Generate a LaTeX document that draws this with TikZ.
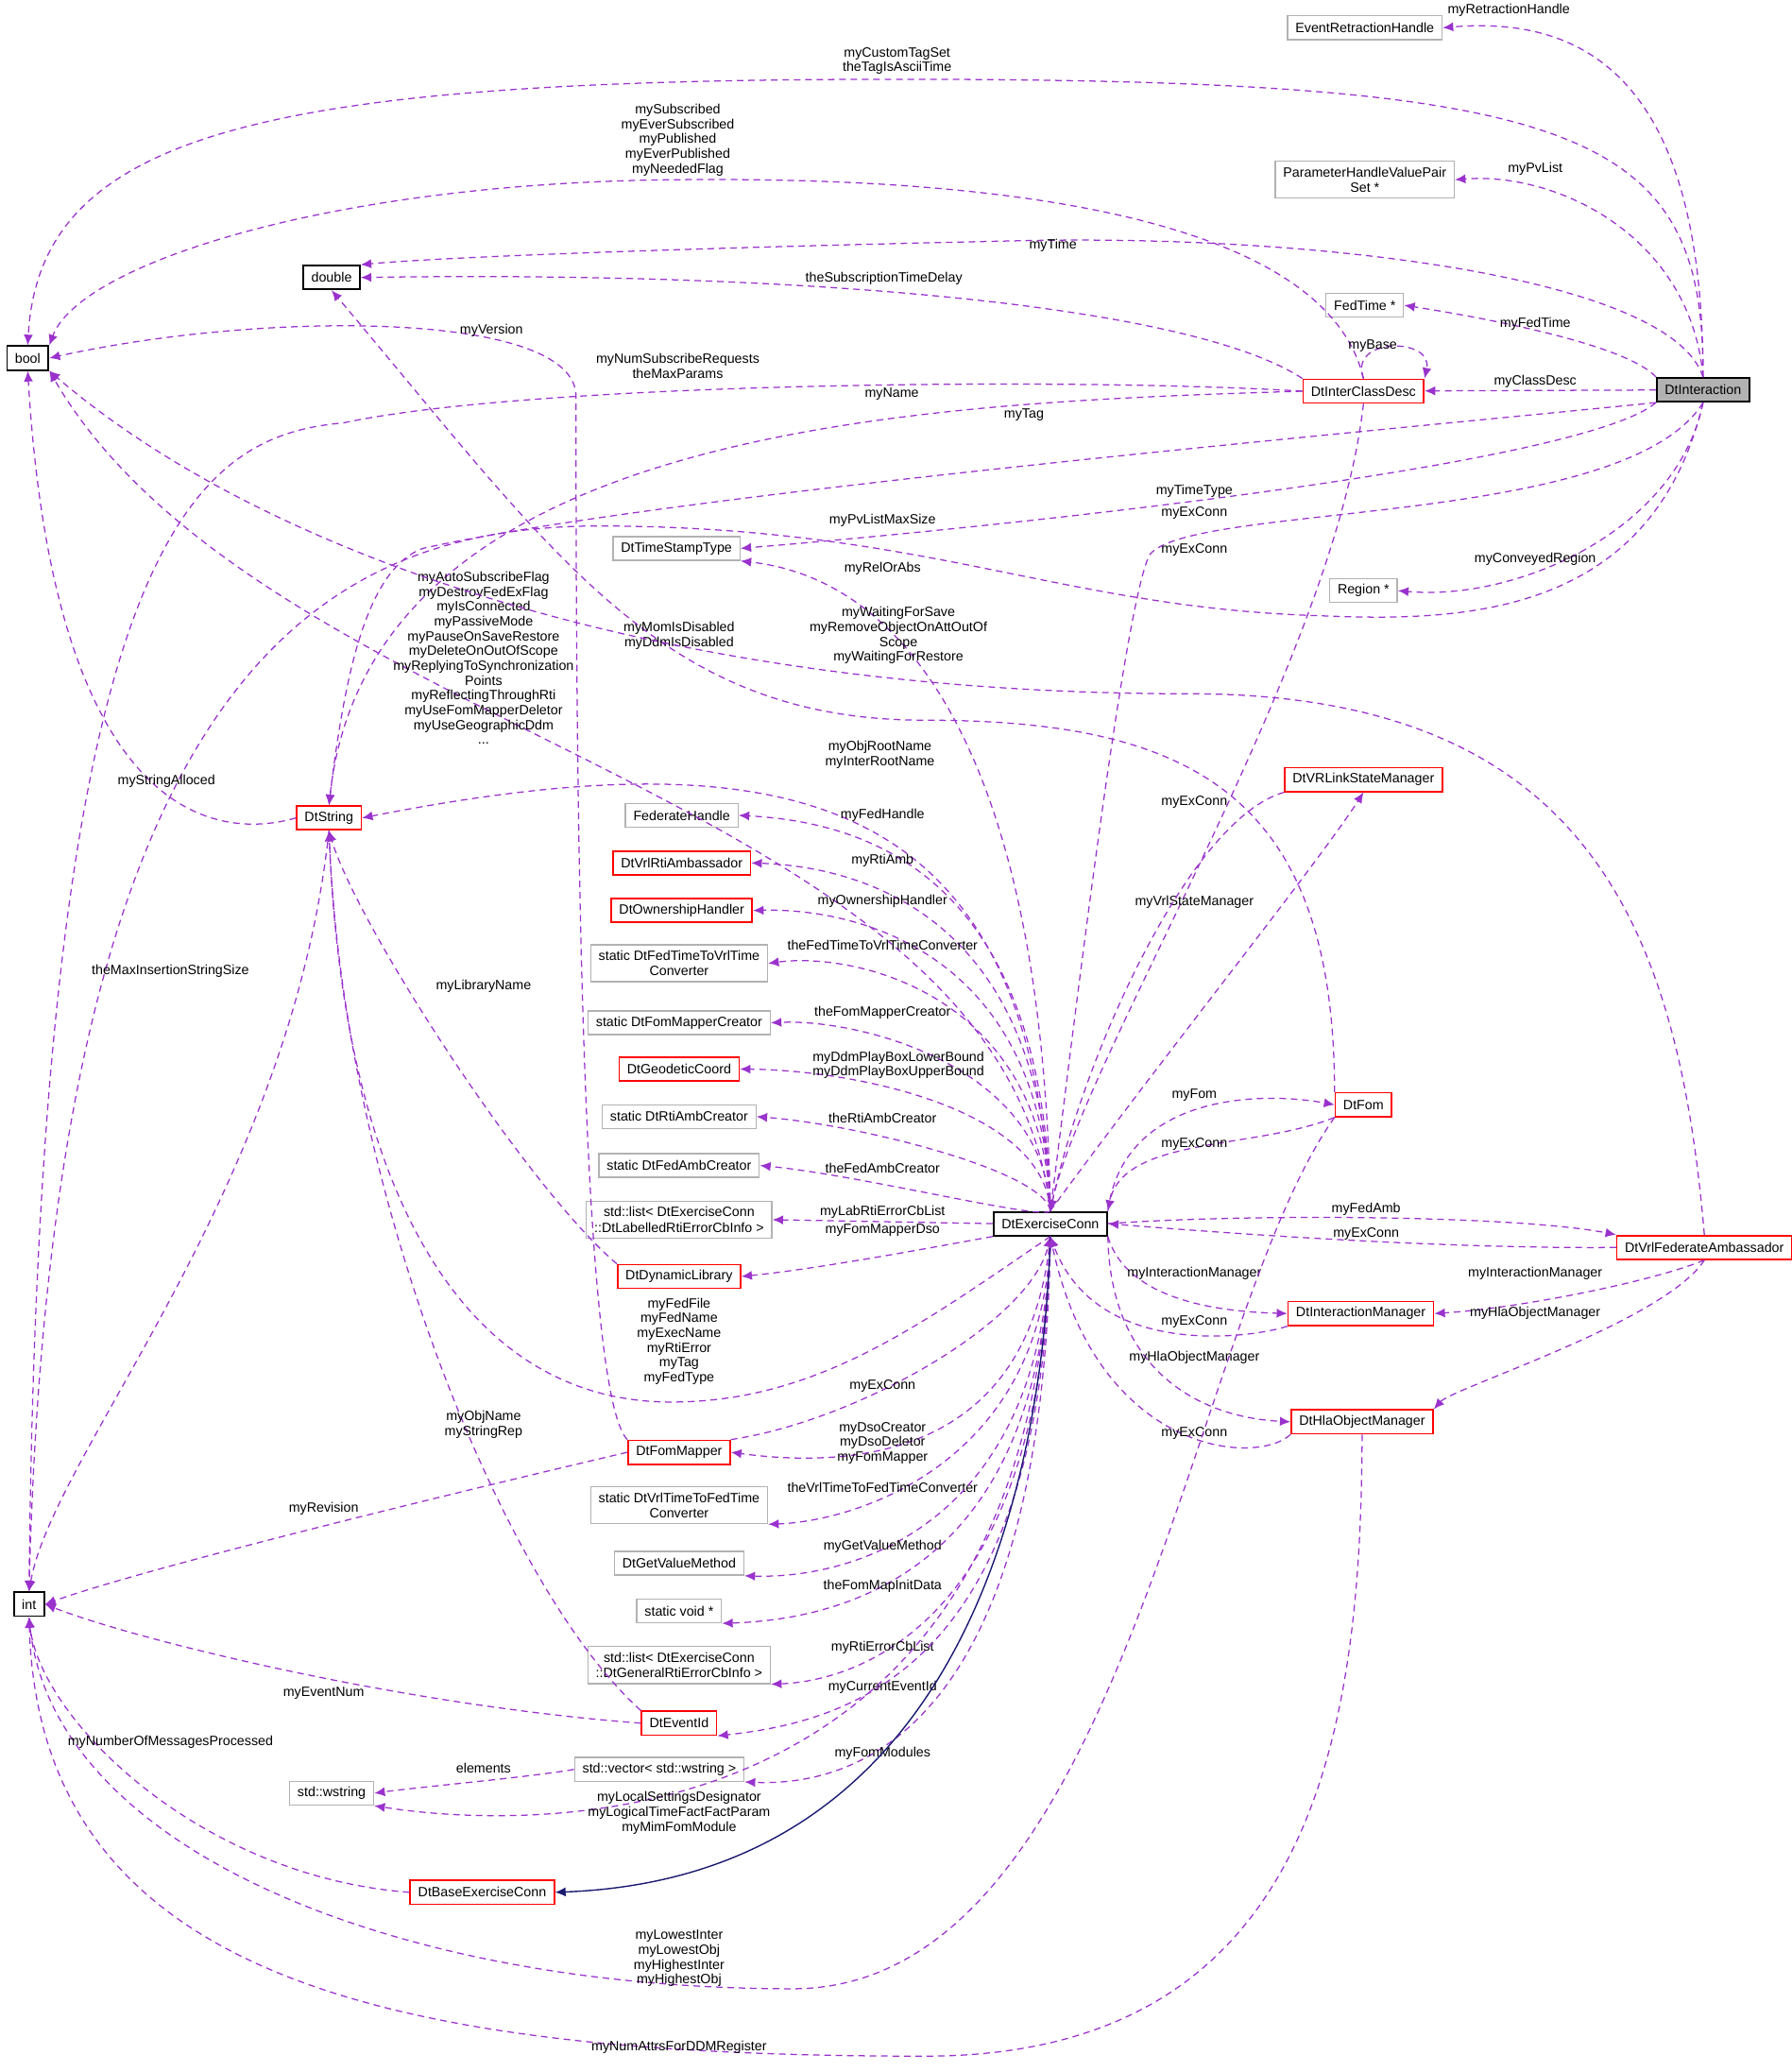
\documentclass[tikz,border=0pt]{standalone}
\usepackage{fontspec}
\setmainfont{Liberation Sans}
\usetikzlibrary{arrows.meta}
\definecolor{ep}{HTML}{9A32CD}
\definecolor{nv}{HTML}{191970}
\begin{document}
\begin{tikzpicture}[x=0.5pt,y=-0.5pt,
 box/.style={draw, font=\fontsize{5.1}{5.8}\selectfont, inner xsep=3pt, inner ysep=0pt, minimum height=9pt, align=center, line width=0.5pt},
 gb/.style={box, draw=black!30},
 rb/.style={box, draw=red, line width=0.6pt},
 kb/.style={box, draw=black, line width=0.7pt},
 tb/.style={box, minimum height=14pt},
 lb/.style={font=\fontsize{5.1}{5.6}\selectfont, align=center, inner sep=0pt},
 e/.style={draw=ep, dash pattern=on 2.5pt off 1.8pt, line width=0.45pt, -{Latex[length=4pt,width=3.5pt]}, fill=none},
 inh/.style={draw=nv, line width=0.5pt, -{Latex[length=4pt,width=3.5pt]}}]
\useasboundingbox (0,0) rectangle (1356,1568);
% nodes
\node[gb] (erh) at (1033,21) {EventRetractionHandle};
\node[gb,tb] (phvp) at (1033,136) {ParameterHandleValuePair\\Set *};
\node[kb] (dbl) at (251,210) {double};
\node[gb] (ft) at (1033,231) {FedTime *};
\node[kb] (bool) at (21,271) {bool};
\node[rb] (icd) at (1032,296) {DtInterClassDesc};
\node[kb,fill=black!30] (I) at (1289,295) {DtInteraction};
\node[gb] (dts) at (512,415) {DtTimeStampType};
\node[gb] (reg) at (1032,447) {Region *};
\node[rb] (str) at (249,619) {DtString};
\node[gb] (fh) at (516,617) {FederateHandle};
\node[rb] (vrl) at (1032,590) {DtVRLinkStateManager};
\node[rb] (rti) at (516,653) {DtVrlRtiAmbassador};
\node[rb] (own) at (516,689) {DtOwnershipHandler};
\node[gb,tb] (f2v) at (514,729) {static DtFedTimeToVrlTime\\Converter};
\node[gb] (fmc) at (514,774) {static DtFomMapperCreator};
\node[rb] (geo) at (514,809) {DtGeodeticCoord};
\node[gb] (rac) at (514,845) {static DtRtiAmbCreator};
\node[gb] (fac) at (514,882) {static DtFedAmbCreator};
\node[gb,tb] (ll) at (514,923) {std::list\textless{} DtExerciseConn\\::DtLabelledRtiErrorCbInfo \textgreater};
\node[rb] (ddl) at (514,966) {DtDynamicLibrary};
\node[kb] (E) at (795,926) {DtExerciseConn};
\node[rb] (fom) at (1032,836) {DtFom};
\node[rb] (vfa) at (1290,944) {DtVrlFederateAmbassador};
\node[rb] (im) at (1030,994) {DtInteractionManager};
\node[rb] (hom) at (1031,1076) {DtHlaObjectManager};
\node[rb] (fm) at (514,1099) {DtFomMapper};
\node[gb,tb] (v2f) at (514,1139) {static DtVrlTimeToFedTime\\Converter};
\node[gb] (gvm) at (514,1183) {DtGetValueMethod};
\node[gb] (sv) at (514,1219) {static void *};
\node[gb,tb] (gl) at (514,1260) {std::list\textless{} DtExerciseConn\\::DtGeneralRtiErrorCbInfo \textgreater};
\node[rb] (eid) at (514,1304) {DtEventId};
\node[kb] (int) at (22,1214) {int};
\node[gb] (vec) at (499,1339) {std::vector\textless{} std::wstring \textgreater};
\node[gb] (ws) at (251,1357) {std::wstring};
\node[rb] (bec) at (365,1432) {DtBaseExerciseConn};
% DtInteraction edges
\draw[e] (I.north) .. controls (1289,60) and (1200,12) .. (erh.east);
\node[lb] at (1142,8) {myRetractionHandle};
\draw[e] (I.north) .. controls (1280,180) and (1180,130) .. (phvp.east);
\node[lb] at (1162,128) {myPvList};
\draw[e] (I.north) .. controls (1265,210) and (1000,178) .. (780,182) .. controls (500,188) and (330,195) .. (dbl.north east);
\node[lb] at (797,186) {myTime};
\draw[e] (I.north west) .. controls (1230,260) and (1120,240) .. (ft.east);
\node[lb] at (1162,245) {myFedTime};
\draw[e] (I) -- (icd);
\node[lb] at (1162,289) {myClassDesc};
\draw[e] (I.north) .. controls (1290,100) and (1200,60) .. (680,60) .. controls (200,60) and (30,100) .. (bool.north);
\node[lb] at (679,46) {myCustomTagSet\\theTagIsAsciiTime};
\draw[e] (I.south west) .. controls (1000,330) and (500,375) .. (320,415) .. controls (280,430) and (262,500) .. (str.north);
\node[lb] at (775,314) {myTag};
\draw[e] (I.south west) .. controls (1200,350) and (800,395) .. (dts.east);
\node[lb] at (904,372) {myTimeType};
\draw[e] (I.south) .. controls (1270,400) and (1150,455) .. (reg.east);
\node[lb] at (1162,423) {myConveyedRegion};
\draw[e] (I.south) .. controls (1230,400) and (900,380) .. (870,420) .. controls (850,460) and (810,800) .. (E.north);
\node[lb] at (904,388) {myExConn};
\draw[e] (I.south) .. controls (1250,470) and (1100,470) .. (1000,466) .. controls (800,460) and (700,398) .. (450,398) .. controls (250,400) and (40,500) .. (int.north);
\node[lb] at (668,394) {myPvListMaxSize};
% InterClassDesc edges
\draw[e] (icd.north) .. controls (1000,150) and (700,134) .. (513,136) .. controls (250,138) and (60,200) .. (bool.north east);
\node[lb] at (513,106) {mySubscribed\\myEverSubscribed\\myPublished\\myEverPublished\\myNeededFlag};
\draw[e] (icd.north west) .. controls (900,230) and (600,205) .. (dbl.east);
\node[lb] at (669,211) {theSubscriptionTimeDelay};
\draw[e] (icd.north) .. controls (1020,255) and (1085,255) .. (icd.north east);
\node[lb] at (1039,262) {myBase};
\draw[e] (icd.west) .. controls (800,285) and (400,290) .. (260,320) .. controls (150,330) and (30,400) .. (int.north);
\node[lb] at (513,277) {myNumSubscribeRequests\\theMaxParams};
\draw[e] (icd.west) .. controls (700,305) and (280,320) .. (str.north);
\node[lb] at (675,298) {myName};
\draw[e] (icd.south) .. controls (1010,500) and (820,800) .. (E.north);
\node[lb] at (904,416) {myExConn};
% DtString edges
\draw[e] (str.west) .. controls (150,640) and (40,600) .. (bool.south);
\node[lb] at (126,591) {myStringAlloced};
\draw[e] (str.south) .. controls (220,900) and (40,1100) .. (int.north);
\node[lb] at (129,735) {theMaxInsertionStringSize};
% DtExerciseConn to left column
\draw[e] (E.north) .. controls (760,600) and (200,560) .. (bool.south east);
\node[lb] at (366,498) {myAutoSubscribeFlag\\myDestroyFedExFlag\\myIsConnected\\myPassiveMode\\myPauseOnSaveRestore\\myDeleteOnOutOfScope\\myReplyingToSynchronization\\Points\\myReflectingThroughRti\\myUseFomMapperDeletor\\myUseGeographicDdm\\...};
\draw[e] (E.north) .. controls (780,600) and (600,555) .. (str.east);
\node[lb] at (666,571) {myObjRootName\\myInterRootName};
\draw[e] (E.north) .. controls (790,600) and (700,440) .. (dts.south east);
\node[lb] at (668,430) {myRelOrAbs};
\foreach \n/\y/\l in {fh/617/myFedHandle, rti/651/myRtiAmb, own/682/myOwnershipHandler, f2v/715/theFedTimeToVrlTimeConverter, fmc/766/theFomMapperCreator, rac/846/theRtiAmbCreator, fac/884/theFedAmbCreator}{
 \draw[e] (E.north) .. controls (790,\y+40) and (650,\y+5) .. (\n.east);
 \node[lb] at (668,\y) {\l};}
\draw[e] (E.north) .. controls (790,840) and (650,810) .. (geo.east);
\node[lb] at (680,806) {myDdmPlayBoxLowerBound\\myDdmPlayBoxUpperBound};
\draw[e] (E.west) -- (ll.east);
\node[lb] at (668,917) {myLabRtiErrorCbList};
\draw[e] (E.south west) .. controls (700,945) and (620,960) .. (ddl.east);
\node[lb] at (668,931) {myFomMapperDso};
\draw[e] (E.south) .. controls (700,1000) and (620,1061) .. (508,1061) .. controls (350,1061) and (260,900) .. (str.south);
\node[lb] at (514,1015) {myFedFile\\myFedName\\myExecName\\myRtiError\\myTag\\myFedType};
\draw[e] (fm.north east) .. controls (650,1075) and (780,1000) .. (E.south);
\node[lb] at (668,1049) {myExConn};
\draw[e] (E.south) .. controls (780,1100) and (650,1112) .. (fm.east);
\node[lb] at (668,1092) {myDsoCreator\\myDsoDeletor\\myFomMapper};
\foreach \n/\y/\l in {v2f/1126/theVrlTimeToFedTimeConverter, gvm/1170/myGetValueMethod, sv/1200/theFomMapInitData, gl/1247/myRtiErrorCbList, eid/1277/myCurrentEventId, vec/1327/myFomModules}{
 \draw[e] (E.south) .. controls (790,\y-20) and (650,\y+25) .. (\n.south east);
 \node[lb] at (668,\y) {\l};}
\draw[e] (E.south) .. controls (780,1400) and (400,1385) .. (ws.south east);
\node[lb] at (514,1372) {myLocalSettingsDesignator\\myLogicalTimeFactFactParam\\myMimFomModule};
\draw[inh] (E.south) .. controls (790,1100) and (740,1420) .. (bec.east);
% right side
\draw[e] (E.north) .. controls (880,800) and (1000,650) .. (vrl.south);
\node[lb] at (904,683) {myVrlStateManager};
\draw[e] (vrl.south west) .. controls (900,620) and (820,800) .. (E.north);
\node[lb] at (904,607) {myExConn};
\draw[e] (E.north east) .. controls (850,830) and (950,825) .. (fom.west);
\node[lb] at (904,829) {myFom};
\draw[e] (fom.south west) .. controls (950,870) and (850,860) .. (E.north east);
\node[lb] at (904,866) {myExConn};
\draw[e] (E.east) .. controls (950,918) and (1150,920) .. (vfa.north west);
\node[lb] at (1034,915) {myFedAmb};
\draw[e] (vfa.west) .. controls (1100,945) and (950,935) .. (E.east);
\node[lb] at (1034,934) {myExConn};
\draw[e] (E.south east) .. controls (850,975) and (900,992) .. (im.west);
\node[lb] at (904,964) {myInteractionManager};
\draw[e] (im.south west) .. controls (950,1012) and (830,1030) .. (E.south);
\node[lb] at (904,1000) {myExConn};
\draw[e] (E.south east) .. controls (840,1030) and (900,1072) .. (hom.west);
\node[lb] at (904,1027) {myHlaObjectManager};
\draw[e] (hom.south west) .. controls (950,1110) and (830,1100) .. (E.south);
\node[lb] at (904,1085) {myExConn};
\draw[e] (vfa.south) .. controls (1250,970) and (1150,990) .. (im.east);
\node[lb] at (1162,964) {myInteractionManager};
\draw[e] (vfa.south) .. controls (1260,1000) and (1100,1050) .. (hom.north east);
\node[lb] at (1162,994) {myHlaObjectManager};
% long edges
\draw[e] (fm.north west) .. controls (436,1050) and (436,500) .. (436,300) .. controls (436,235) and (200,235) .. (bool.east);
\node[lb] at (372,250) {myVersion};
\draw[e] (fom.north west) .. controls (1010,600) and (900,545) .. (700,545) .. controls (500,545) and (420,420) .. (dbl.south);
\node[lb] at (514,481) {myMomIsDisabled\\myDdmIsDisabled};
\draw[e] (vfa.north) .. controls (1270,700) and (1200,525) .. (900,525) .. controls (500,525) and (200,420) .. (bool.south east);
\node[lb] at (680,481) {myWaitingForSave\\myRemoveObjectOnAttOutOf\\Scope\\myWaitingForRestore};
\draw[e] (fom.south west) .. controls (900,1000) and (850,1505) .. (600,1505) .. controls (300,1505) and (40,1400) .. (int.south);
\node[lb] at (514,1482) {myLowestInter\\myLowestObj\\myHighestInter\\myHighestObj};
\draw[e] (hom.south) .. controls (1030,1300) and (1000,1556) .. (700,1556) .. controls (300,1556) and (30,1500) .. (int.south);
\node[lb] at (514,1549) {myNumAttrsForDDMRegister};
\draw[e] (bec.west) .. controls (150,1420) and (30,1300) .. (int.south);
\node[lb] at (129,1318) {myNumberOfMessagesProcessed};
\draw[e] (vec.west) .. controls (400,1345) and (320,1352) .. (ws.east);
\node[lb] at (366,1338) {elements};
\draw[e] (ddl.north west) .. controls (400,900) and (270,700) .. (str.south);
\node[lb] at (366,746) {myLibraryName};
\draw[e] (eid.north west) .. controls (380,1200) and (260,900) .. (str.south);
\node[lb] at (366,1078) {myObjName\\myStringRep};
\draw[e] (eid.west) .. controls (300,1290) and (100,1240) .. (int.east);
\node[lb] at (245,1281) {myEventNum};
\draw[e] (fm.west) .. controls (300,1140) and (100,1190) .. (int.east);
\node[lb] at (245,1142) {myRevision};
\end{tikzpicture}
\end{document}
